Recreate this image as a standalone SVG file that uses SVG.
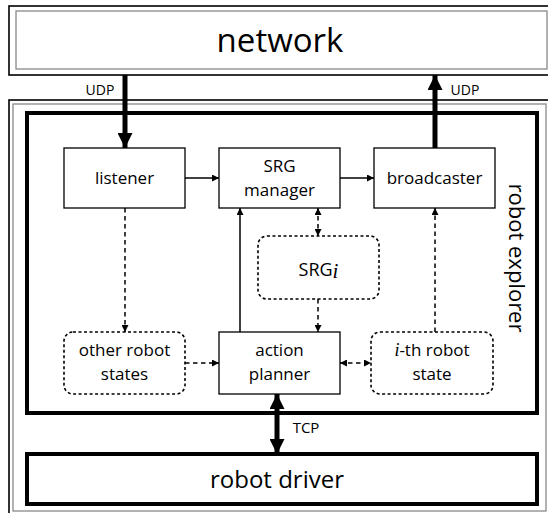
<svg xmlns="http://www.w3.org/2000/svg" width="548" height="513" viewBox="0 0 548 513">
<defs>
<style>
text{font-family:"Open Sans","Liberation Sans",sans-serif;fill:#000}
.box{fill:#fff;stroke:#000;stroke-width:1.3}
.dbox{fill:#fff;stroke:#000;stroke-width:1.6;stroke-dasharray:3 2.5}
.thick{fill:none;stroke:#000;stroke-width:4}
.frameb{fill:none;stroke:#000;stroke-width:1.6}
.frameg{fill:none;stroke:#888;stroke-width:1.3}
.lbl{font-size:17px;text-anchor:middle}
.ln{fill:none;stroke:#000;stroke-width:1.5}
.dln{fill:none;stroke:#000;stroke-width:1.5;stroke-dasharray:4.5 3.5}
.big{fill:none;stroke:#000;stroke-width:5}
.math{font-family:"Liberation Serif",serif;font-style:italic}
.edge{font-size:14px;text-anchor:middle}
</style>
<marker id="ah" viewBox="0 0 10 10" refX="10" refY="5" markerWidth="8" markerHeight="7" markerUnits="userSpaceOnUse" orient="auto-start-reverse"><path d="M0,0 L10,5 L0,10 z" fill="#000"/></marker>
<marker id="bh" viewBox="0 0 10 10" refX="10" refY="5" markerWidth="15" markerHeight="15" markerUnits="userSpaceOnUse" orient="auto-start-reverse"><path d="M0,0 L10,5 L0,10 z" fill="#000"/></marker>
</defs>
<g id="network">
<rect class="frameb" x="9" y="6" width="550" height="69"/>
<rect class="frameg" x="16" y="11" width="531" height="58"/>
<text x="280" y="52" font-size="33" text-anchor="middle">network</text>
</g>
<g id="robot-explorer-frame">
<rect class="frameb" x="9" y="100" width="550" height="420"/>
<rect class="frameg" x="13" y="104" width="533" height="407"/>
<rect class="thick" x="27" y="113" width="510" height="300"/>
<text transform="translate(509,258) rotate(90)" font-size="22" text-anchor="middle">robot explorer</text>
</g>
<g id="robot-driver">
<rect class="thick" x="27" y="454" width="510" height="50"/>
<text x="277" y="488" font-size="24" text-anchor="middle">robot driver</text>
</g>
<g id="listener">
<rect class="box" x="64" y="148" width="121" height="60"/>
<text class="lbl" x="124.5" y="184">listener</text>
</g>
<g id="srg-manager">
<rect class="box" x="219" y="148" width="121" height="60"/>
<text class="lbl" x="279.5" y="172">SRG</text>
<text class="lbl" x="279.5" y="196">manager</text>
</g>
<g id="broadcaster">
<rect class="box" x="374" y="148" width="121" height="60"/>
<text class="lbl" x="434.5" y="184">broadcaster</text>
</g>
<g id="srg-i">
<rect class="dbox" x="258" y="236" width="121" height="63" rx="9"/>
<text x="318.5" y="276" font-size="18" text-anchor="middle">SRG<tspan class="math" font-size="21" dy="2">i</tspan></text>
</g>
<g id="other-robot-states">
<rect class="dbox" x="64" y="332" width="121" height="62" rx="9"/>
<text class="lbl" x="124.5" y="356">other robot</text>
<text class="lbl" x="124.5" y="380">states</text>
</g>
<g id="action-planner">
<rect class="box" x="219" y="332" width="121" height="62"/>
<text class="lbl" x="279.5" y="356">action</text>
<text class="lbl" x="279.5" y="380">planner</text>
</g>
<g id="ith-robot-state">
<rect class="dbox" x="371" y="332" width="122" height="62" rx="9"/>
<text class="lbl" x="432" y="356"><tspan class="math" font-size="18">i</tspan>-th robot</text>
<text class="lbl" x="432" y="380">state</text>
</g>
<g id="connectors">
<line class="big" x1="125" y1="75" x2="125" y2="148" marker-end="url(#bh)"/>
<text class="edge" x="100" y="95">UDP</text>
<line class="big" x1="435" y1="148" x2="435" y2="75" marker-end="url(#bh)"/>
<text class="edge" x="465" y="95">UDP</text>
<line class="ln" x1="185" y1="178" x2="219" y2="178" marker-end="url(#ah)"/>
<line class="ln" x1="340" y1="178" x2="374" y2="178" marker-end="url(#ah)"/>
<line class="dln" x1="125" y1="208" x2="125" y2="332" marker-end="url(#ah)"/>
<line class="dln" x1="318" y1="208" x2="318" y2="236" marker-start="url(#ah)" marker-end="url(#ah)"/>
<line class="dln" x1="318" y1="299" x2="318" y2="332" marker-end="url(#ah)"/>
<line class="ln" x1="240" y1="332" x2="240" y2="208" marker-end="url(#ah)"/>
<line class="dln" x1="435" y1="332" x2="435" y2="208" marker-end="url(#ah)"/>
<line class="dln" x1="185" y1="363" x2="219" y2="363" marker-end="url(#ah)"/>
<line class="dln" x1="340" y1="363" x2="371" y2="363" marker-start="url(#ah)" marker-end="url(#ah)"/>
<line class="big" x1="277" y1="394" x2="277" y2="454" marker-start="url(#bh)" marker-end="url(#bh)"/>
<text x="306" y="433" font-size="15" text-anchor="middle">TCP</text>
</g>
</svg>
